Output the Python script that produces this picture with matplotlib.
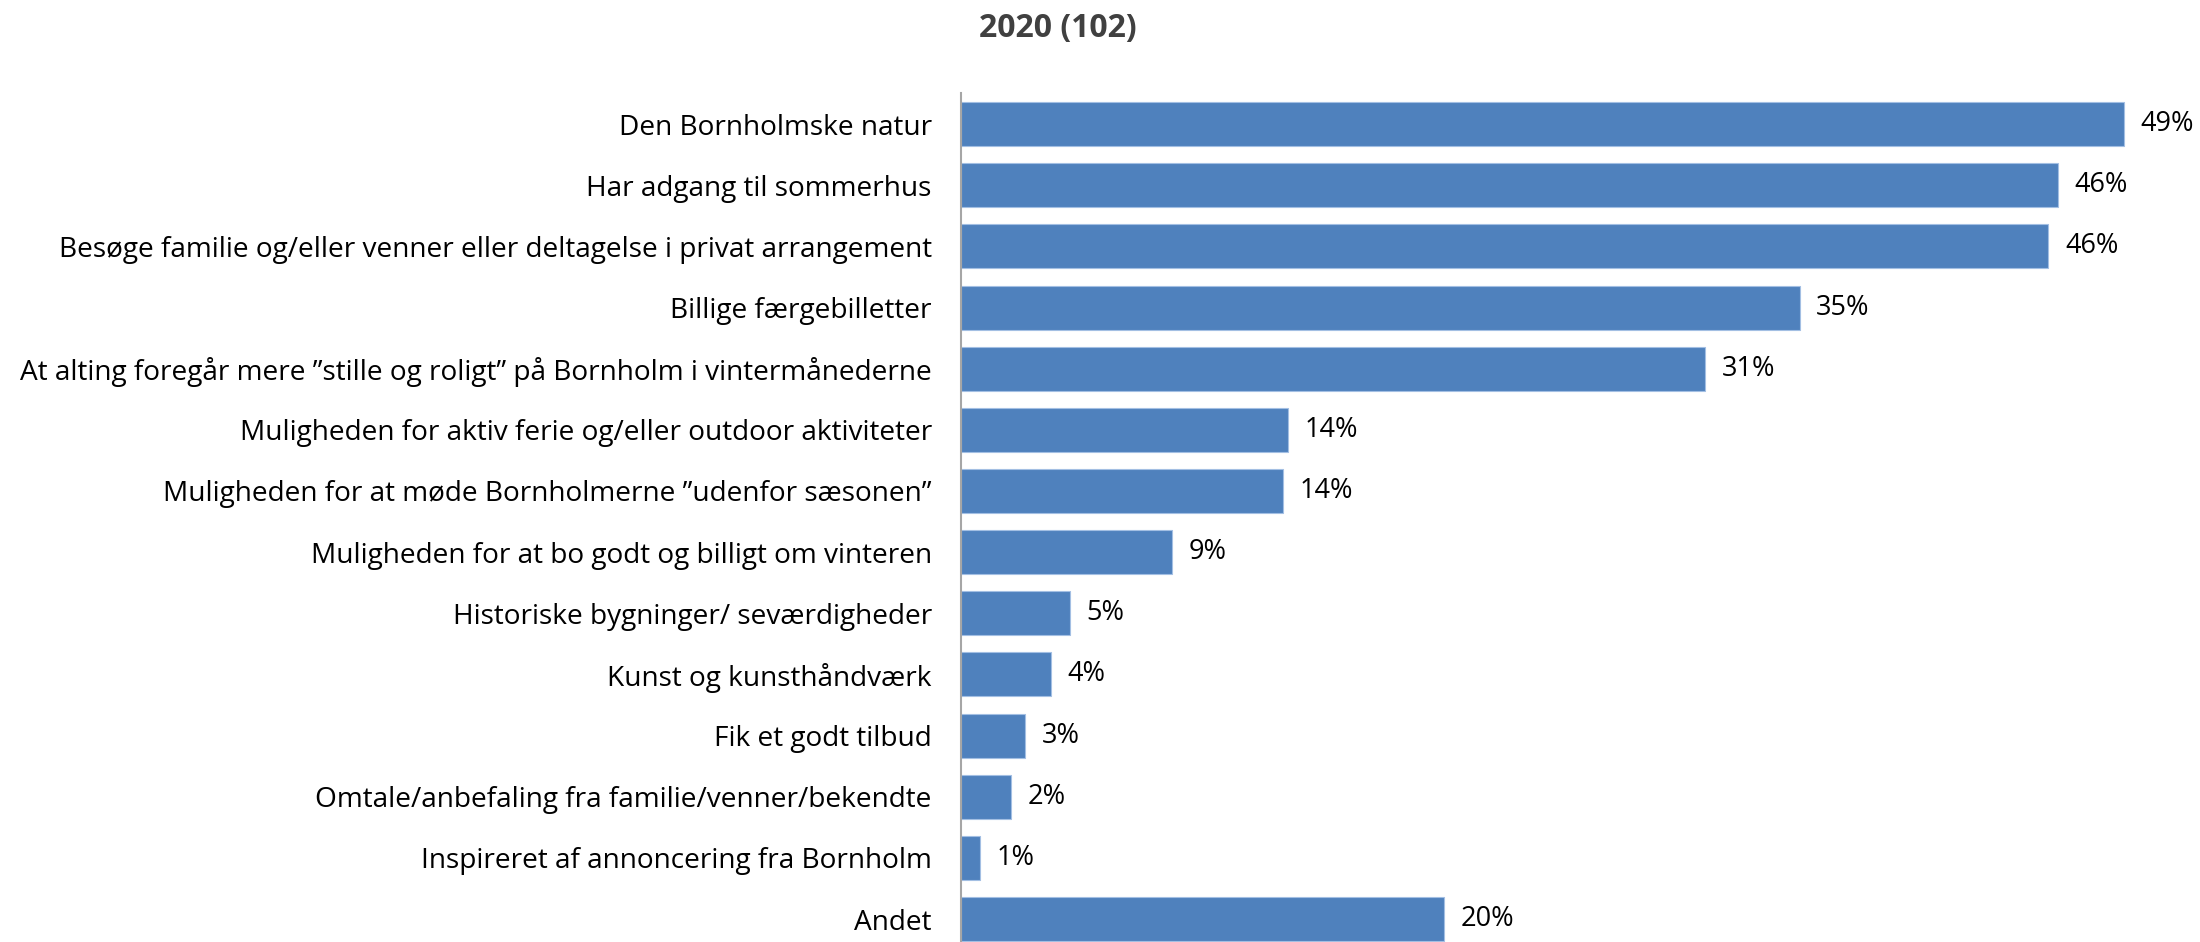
import numpy as np
import matplotlib
matplotlib.use('Agg')
import matplotlib.pyplot as plt

######################################################################
######### Data
######################################################################
categories = [
    'Den Bornholmske natur',
    'Har adgang til sommerhus',
    'Besøge familie og/eller venner eller deltagelse i privat arrangement',
    'Billige færgebilletter',
    'At alting foregår mere \u201dstille og roligt\u201d på Bornholm i vintermånederne',
    'Muligheden for aktiv ferie og/eller outdoor aktiviteter',
    'Muligheden for at møde Bornholmerne \u201dudenfor sæsonen\u201d',
    'Muligheden for at bo godt og billigt om vinteren',
    'Historiske bygninger/ seværdigheder',
    'Kunst og kunsthåndværk',
    'Fik et godt tilbud',
    'Omtale/anbefaling fra familie/venner/bekendte',
    'Inspireret af annoncering fra Bornholm',
    'Andet',
]
# percent
values = [49.1, 46.3, 45.9, 35.4, 31.4, 13.8, 13.6, 8.9, 4.6, 3.8, 2.7, 2.1, 0.8, 20.4]
title = '2020 (102)'

######################################################################
######### Plot
######################################################################
plt.rcParams['font.family'] = ['Open Sans', 'DejaVu Sans']

W, H = 2200, 942
fig = plt.figure(figsize=(W / 100, H / 100), dpi=100)

# plot area runs slightly past the bottom edge, like the cropped original
left_px, top_px, bottom_px = 961, 93.5, 949.6
ax = fig.add_axes([left_px / W, 1 - bottom_px / H,
                   1 - left_px / W, (bottom_px - top_px) / H])

y = np.arange(len(categories))
ax.barh(y, values, height=0.72, color='#4f81bd', edgecolor='#a3bfe3', linewidth=0.8)

ax.set_ylim(len(categories) - 0.5, -0.5)
ax.set_xlim(0, (W - left_px) / 23.69)

ax.set_yticks(y)
ax.set_yticklabels(categories, fontsize=20.2, color='black')
ax.tick_params(axis='y', length=0, pad=21)
ax.set_xticks([])

for s in ['top', 'right', 'bottom']:
    ax.spines[s].set_visible(False)
ax.spines['left'].set_color('#a6a6a6')
ax.spines['left'].set_linewidth(1.5)

for yi, v in zip(y, values):
    ax.annotate('%d%%' % round(v), xy=(v, yi), xytext=(12, 0),
                textcoords='offset points', va='center', ha='left',
                fontsize=19.5, color='black')

fig.text(1058 / W, 1 - 29 / H, title, ha='center', va='center',
         fontsize=23, fontweight='bold', color='#404040')

fig.savefig('out.png', dpi=100)
